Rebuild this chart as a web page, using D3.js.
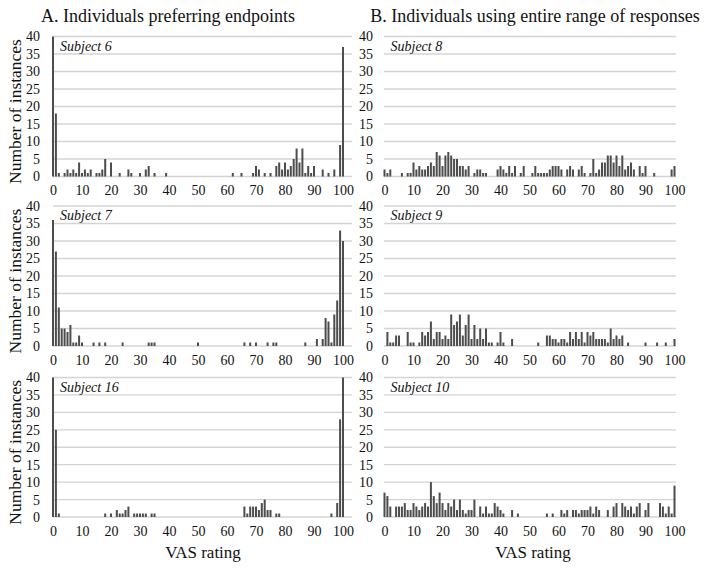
<!DOCTYPE html>
<html>
<head>
<meta charset="utf-8">
<script src="https://cdn.jsdelivr.net/npm/d3@7"></script>
</head>
<body style="margin:0;background:#fff">
<svg id="chart" width="706" height="570"></svg>
<script>
// ---- Data: [VAS rating, number of instances] ----
const subject6 = [[0,48],[1,18],[2,1],[4,1],[5,2],[6,1],[7,2],[8,1],[9,4],[10,1],[11,2],[12,1],[13,2],[15,1],[16,1],[17,2],[18,5],[20,4],[23,1],[26,2],[27,1],[30,1],[32,2],[33,3],[35,1],[39,1],[62,1],[65,1],[69,1],[70,3],[71,2],[73,1],[75,1],[77,3],[78,4],[79,2],[80,4],[81,2],[82,3],[83,5],[84,8],[85,4],[86,8],[87,1],[88,3],[89,1],[90,3],[93,2],[95,1],[97,2],[99,9],[100,37]];
const subject7 = [[0,36],[1,27],[2,11],[3,5],[4,5],[5,4],[6,6],[7,1],[8,1],[9,3],[10,1],[14,1],[16,1],[18,1],[24,1],[33,1],[34,1],[35,1],[50,1],[66,1],[68,1],[70,1],[74,1],[76,1],[77,1],[87,1],[91,2],[93,2],[94,8],[95,7],[96,1],[97,9],[98,13],[99,33],[100,30]];
const subject16 = [[0,48],[1,25],[2,1],[18,1],[20,1],[22,2],[23,1],[24,1],[25,2],[26,3],[28,1],[29,1],[30,1],[31,1],[32,1],[34,1],[35,1],[66,3],[67,1],[68,3],[69,3],[70,3],[71,2],[72,4],[73,5],[74,2],[75,2],[77,1],[78,1],[96,1],[98,4],[99,28],[100,48]];
const subject8 = [[0,2],[1,1],[2,2],[6,1],[8,1],[9,1],[10,4],[11,2],[12,3],[13,2],[14,2],[15,3],[16,4],[17,3],[18,7],[19,6],[20,3],[21,6],[22,7],[23,6],[24,5],[25,5],[26,3],[27,3],[28,2],[29,3],[31,1],[32,2],[33,2],[34,1],[35,1],[39,2],[40,3],[41,2],[42,1],[43,3],[44,1],[45,3],[47,1],[48,3],[51,1],[52,3],[53,1],[54,1],[55,1],[56,1],[57,2],[58,3],[59,3],[60,3],[61,2],[63,2],[64,3],[65,2],[67,2],[68,3],[69,1],[71,1],[72,5],[73,1],[74,2],[75,4],[76,4],[77,6],[78,6],[79,4],[80,6],[81,3],[82,6],[83,2],[84,3],[85,4],[86,2],[88,3],[89,1],[90,3],[93,1],[99,2],[100,3]];
const subject9 = [[1,4],[2,1],[3,1],[4,3],[5,3],[8,4],[9,1],[10,1],[12,1],[13,4],[14,3],[15,4],[16,7],[17,2],[18,4],[19,4],[20,2],[21,3],[22,2],[23,9],[24,6],[25,7],[26,9],[27,3],[28,6],[29,9],[30,2],[31,6],[32,2],[33,5],[34,2],[35,5],[36,1],[37,1],[39,1],[40,4],[41,1],[44,2],[53,1],[56,3],[57,3],[58,2],[59,2],[60,1],[61,2],[62,2],[63,1],[64,4],[65,2],[66,4],[67,2],[68,4],[69,1],[70,4],[71,3],[72,4],[73,2],[74,2],[75,2],[76,2],[77,1],[78,5],[79,2],[80,3],[81,2],[82,3],[84,1],[90,1],[94,1],[97,1],[100,2]];
const subject10 = [[0,7],[1,6],[2,3],[4,3],[5,3],[6,3],[7,4],[8,2],[9,2],[10,4],[11,3],[12,2],[13,3],[14,4],[15,3],[16,10],[17,6],[18,4],[19,7],[20,4],[21,2],[22,4],[23,3],[24,5],[25,2],[26,5],[27,2],[28,1],[29,2],[30,2],[31,5],[33,3],[34,1],[35,3],[36,1],[37,1],[38,4],[39,3],[40,2],[41,1],[44,2],[46,1],[56,1],[58,1],[61,2],[62,1],[63,2],[65,2],[66,2],[67,1],[68,2],[69,2],[70,2],[71,3],[72,1],[73,3],[74,2],[77,2],[79,3],[80,4],[82,4],[83,3],[84,2],[85,3],[86,1],[87,3],[88,4],[90,2],[91,4],[95,4],[96,3],[97,1],[98,3],[99,1],[100,9]];

const subjectNames = ["Subject 6", "Subject 8", "Subject 7", "Subject 9", "Subject 16", "Subject 10"];
const subjectData = [subject6, subject8, subject7, subject9, subject16, subject10];
const xTicks = [0, 10, 20, 30, 40, 50, 60, 70, 80, 90, 100];
const yTicks = [0, 5, 10, 15, 20, 25, 30, 35, 40];
const columnTitles = ["A. Individuals preferring endpoints", "B. Individuals using entire range of responses"];
const xAxisTitle = "VAS rating";
const yAxisTitle = "Number of instances";

// ---- Layout ----
const FONT = '"Liberation Serif"';
const svg = d3.select("#chart");
const cols = [
  { x0: 53, x1: 343, gridL: 53, gridR: 352, labelRight: 40, titleX: 168 },
  { x0: 384.5, x1: 674.5, gridL: 384, gridR: 676, labelRight: 373, titleX: 535 }
];
const rows = [
  { top: 36.5, bottom: 176.5 },
  { top: 206, bottom: 346 },
  { top: 377.5, bottom: 517 }
];

const barColor = "#4d4d4d";
const gridColor = "#d4d4d4";

function styleText(sel, size) {
  sel.style("font-family", FONT).style("font-size", size).attr("fill", "#111");
}

// column titles
columnTitles.forEach((t, i) => {
  svg.append("text")
    .attr("x", cols[i].titleX).attr("y", 22)
    .attr("text-anchor", "middle")
    .call(styleText, "18px")
    .text(t);
});

subjectData.forEach((data, idx) => {
  const c = cols[idx % 2];
  const r = rows[Math.floor(idx / 2)];
  const x = d3.scaleLinear().domain([0, 100]).range([c.x0, c.x1]);
  const y = d3.scaleLinear().domain([0, 40]).range([r.bottom, r.top]).clamp(true);
  const g = svg.append("g");

  // gridlines
  g.selectAll("line.grid").data(yTicks).join("line")
    .attr("class", "grid")
    .attr("x1", c.gridL).attr("x2", c.gridR)
    .attr("y1", d => y(d)).attr("y2", d => y(d))
    .attr("stroke", gridColor).attr("stroke-width", 1.3);

  // y tick labels via axis
  const yAxis = d3.axisLeft(y).tickValues(yTicks).tickSize(0).tickPadding(0);
  const ya = g.append("g").attr("transform", `translate(${c.labelRight},0)`).call(yAxis);
  ya.select(".domain").remove();
  ya.selectAll("text").call(styleText, "14px");

  // x tick labels via axis
  const xAxis = d3.axisBottom(x).tickValues(xTicks).tickSize(0).tickPadding(0);
  const xa = g.append("g").attr("transform", `translate(0,${r.bottom + 9})`).call(xAxis);
  xa.select(".domain").remove();
  xa.selectAll("text").call(styleText, "14px");

  // bars
  g.selectAll("rect.bar").data(data).join("rect")
    .attr("class", "bar")
    .attr("x", d => x(d[0]) - 1)
    .attr("width", 2)
    .attr("y", d => y(d[1]))
    .attr("height", d => y(0) - y(d[1]))
    .attr("fill", barColor);

  // subject label
  g.append("text")
    .attr("x", c.x0 + (idx % 2 === 0 ? 7 : 6))
    .attr("y", r.top + 14)
    .call(styleText, "14px")
    .style("font-style", "italic")
    .text(subjectNames[idx]);

  // y-axis title for left column
  if (idx % 2 === 0) {
    const cy = (r.top + r.bottom) / 2 + 5;
    svg.append("text")
      .attr("transform", `translate(21,${cy}) rotate(-90)`)
      .attr("text-anchor", "middle")
      .call(styleText, "17.5px")
      .text(yAxisTitle);
  }
});

// x-axis titles
[203, 533].forEach(cx => {
  svg.append("text")
    .attr("x", cx).attr("y", 558)
    .attr("text-anchor", "middle")
    .call(styleText, "17px")
    .text(xAxisTitle);
});
</script>
</body>
</html>
